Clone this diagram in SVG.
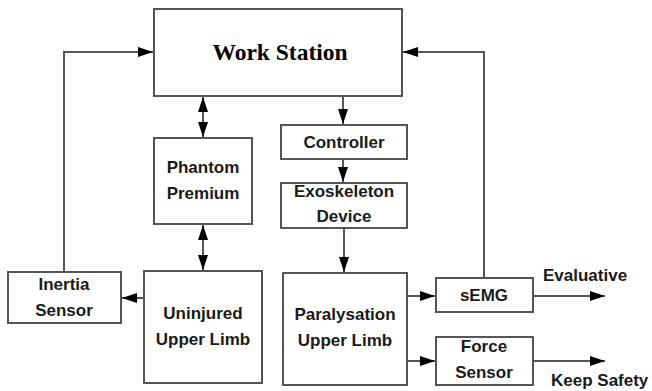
<svg xmlns="http://www.w3.org/2000/svg" width="652" height="391" viewBox="0 0 652 391">
<defs>
<marker id="ah" markerUnits="userSpaceOnUse" markerWidth="15" markerHeight="10" refX="15" refY="5" orient="auto-start-reverse">
<path d="M0,0 L15,5 L0,10 Z" fill="#000"/>
</marker>
</defs>
<style>
.box{fill:#fff;stroke:#555;stroke-width:2}
.lbl{font-family:"Liberation Sans",Arial,sans-serif;font-weight:bold;font-size:17px;fill:#1a1a1a;text-anchor:middle}
.out{font-family:"Liberation Sans",Arial,sans-serif;font-weight:bold;font-size:17px;fill:#1a1a1a}
.ws{font-family:"Liberation Serif","Times New Roman",serif;font-weight:bold;font-size:23.5px;fill:#000;text-anchor:middle}
.c{fill:none;stroke:#555;stroke-width:2}
</style>
<rect width="652" height="391" fill="#fff"/>
<g id="connectors">
<path class="c" d="M64,272 V52 H153" marker-end="url(#ah)"/>
<path class="c" d="M484,278 V52 H403" marker-end="url(#ah)"/>
<path class="c" d="M203,97 V137" marker-start="url(#ah)" marker-end="url(#ah)"/>
<path class="c" d="M203,225 V270" marker-start="url(#ah)" marker-end="url(#ah)"/>
<path class="c" d="M343,97 V124" marker-end="url(#ah)"/>
<path class="c" d="M343,160 V182" marker-end="url(#ah)"/>
<path class="c" d="M344,229 V272" marker-end="url(#ah)"/>
<path class="c" d="M144,298 H122" marker-end="url(#ah)"/>
<path class="c" d="M407,296 H435" marker-end="url(#ah)"/>
<path class="c" d="M407,361 H435" marker-end="url(#ah)"/>
<path class="c" d="M533,296 H605" marker-end="url(#ah)"/>
<path class="c" d="M533,361 H605" marker-end="url(#ah)"/>
</g>
<g id="workstation"><rect class="box" x="154" y="9" width="248" height="87"/><text class="ws" x="280" y="60">Work Station</text></g>
<g id="phantom"><rect class="box" x="154" y="138" width="98" height="86"/><text class="lbl" x="203" y="173">Phantom</text><text class="lbl" x="203" y="199">Premium</text></g>
<g id="controller"><rect class="box" x="281" y="125" width="126" height="34"/><text class="lbl" x="344" y="148">Controller</text></g>
<g id="exoskeleton"><rect class="box" x="281" y="183" width="126" height="45"/><text class="lbl" x="344" y="197">Exoskeleton</text><text class="lbl" x="344" y="222">Device</text></g>
<g id="inertia"><rect class="box" x="8" y="272" width="113" height="51"/><text class="lbl" x="64" y="290">Inertia</text><text class="lbl" x="64" y="316">Sensor</text></g>
<g id="uninjured"><rect class="box" x="144" y="271" width="118" height="112"/><text class="lbl" x="203" y="319">Uninjured</text><text class="lbl" x="203" y="345">Upper Limb</text></g>
<g id="paralysation"><rect class="box" x="283" y="273" width="124" height="112"/><text class="lbl" x="345" y="320">Paralysation</text><text class="lbl" x="345" y="346">Upper Limb</text></g>
<g id="semg"><rect class="box" x="436" y="278" width="97" height="34"/><text class="lbl" x="484" y="301">sEMG</text></g>
<g id="force"><rect class="box" x="436" y="337" width="97" height="48"/><text class="lbl" x="484" y="352">Force</text><text class="lbl" x="484" y="378">Sensor</text></g>
<g id="outputs"><text class="out" x="543" y="281">Evaluative</text><text class="out" x="551" y="386">Keep Safety</text></g>
</svg>
